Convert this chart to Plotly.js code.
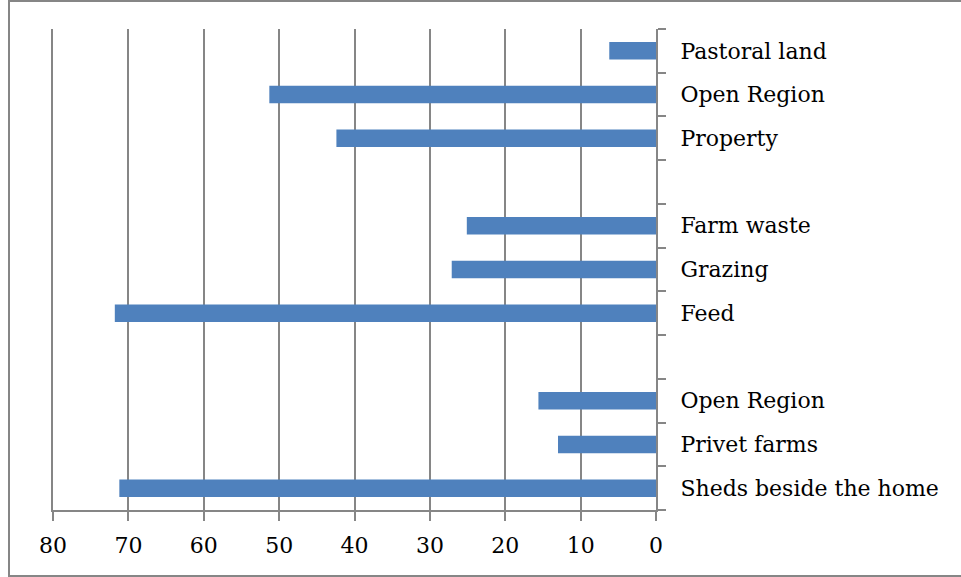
<!DOCTYPE html>
<html>
<head>
<meta charset="utf-8">
<script src="https://cdn.plot.ly/plotly-3.0.1.min.js"></script>
<style>
html,body{margin:0;padding:0;background:#fff;}
#wrap{position:relative;width:961px;height:577px;overflow:hidden;}
#frame{position:absolute;left:8px;top:0;width:980px;height:577px;border:2px solid #868686;box-sizing:border-box;pointer-events:none;}
#chart{position:absolute;left:0;top:0;width:961px;height:577px;}
</style>
</head>
<body>
<div id="wrap"><div id="chart"></div><div id="frame"></div></div>
<script>
// Data (top to bottom as shown)
const categoryIds = ["c1","c2","c3","c4","c5","c6","c7","c8","c9","c10","c11"];
const categoryLabels = ["Pastoral land","Open Region","Property","","Farm waste","Grazing","Feed","","Open Region","Privet farms","Sheds beside the home"];
const values = [6.2, 51.3, 42.4, null, 25.1, 27.1, 71.8, null, 15.6, 13.0, 71.2];
const xTickValues = [80,70,60,50,40,30,20,10,0];

const fontFam = "'DejaVu Serif', 'Liberation Serif', serif";

const trace = {
  type: 'bar',
  orientation: 'h',
  x: values,
  y: categoryIds,
  marker: {color: '#4F81BD', line: {width: 0}},
  width: 0.4,
  hoverinfo: 'none'
};

const layout = {
  width: 961, height: 577,
  margin: {l: 53, r: 305, t: 29, b: 67},
  paper_bgcolor: '#ffffff',
  plot_bgcolor: '#ffffff',
  showlegend: false,
  font: {family: fontFam, size: 22, color: '#000000'},
  xaxis: {
    range: [80, 0],
    tickmode: 'array',
    tickvals: xTickValues,
    ticktext: xTickValues.map(String),
    showgrid: true,
    gridcolor: '#868686',
    gridwidth: 2,
    zeroline: false,
    showline: true,
    linecolor: '#868686',
    linewidth: 2,
    ticks: 'outside',
    ticklen: 9,
    tickwidth: 2,
    tickcolor: '#868686',
    ticklabelstandoff: 6,
    tickfont: {family: fontFam, size: 22, color: '#000'},
    fixedrange: true
  },
  yaxis: {
    type: 'category',
    categoryorder: 'array',
    categoryarray: categoryIds,
    tickmode: 'array',
    tickvals: categoryIds,
    ticktext: categoryLabels,
    autorange: 'reversed',
    side: 'right',
    tickson: 'boundaries',
    showgrid: false,
    zeroline: false,
    showline: true,
    mirror: true,
    linecolor: '#868686',
    linewidth: 2,
    ticks: 'outside',
    ticklen: 8,
    tickwidth: 2,
    tickcolor: '#868686',
    ticklabelstandoff: 18,
    tickfont: {family: fontFam, size: 22, color: '#000'},
    fixedrange: true
  }
};

Plotly.newPlot('chart', [trace], layout, {displayModeBar: false, staticPlot: true});
</script>
</body>
</html>
